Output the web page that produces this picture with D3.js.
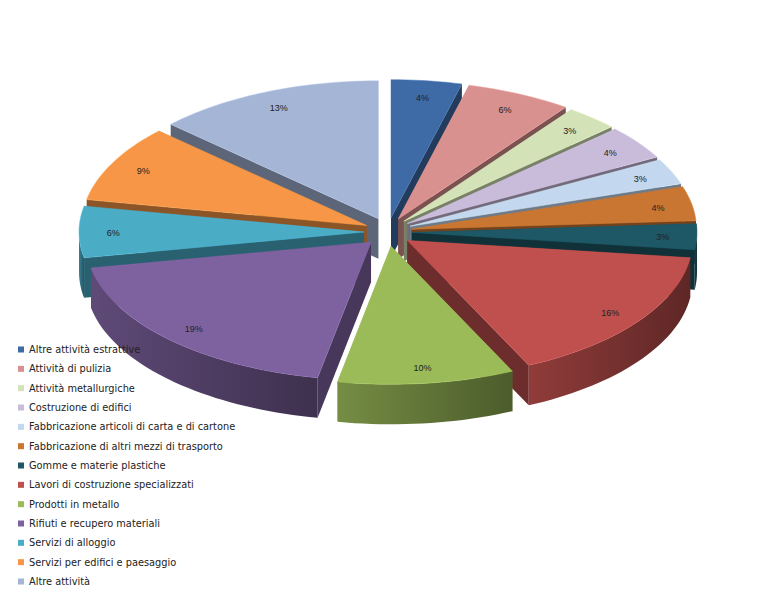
<!DOCTYPE html>
<html><head><meta charset="utf-8">
<script src="https://cdn.jsdelivr.net/npm/d3@7"></script>
<style>body{margin:0;background:#fff}</style>
</head><body>
<svg id="chart" width="782" height="591"></svg>
<script>
var categories = ["Altre attività estrattive","Attività di pulizia","Attività metallurgiche","Costruzione di edifici",
  "Fabbricazione articoli di carta e di cartone","Fabbricazione di altri mezzi di trasporto","Gomme e  materie plastiche",
  "Lavori di costruzione specializzati","Prodotti in metallo","Rifiuti e recupero materiali","Servizi di alloggio",
  "Servizi per edifici e paesaggio","Altre attività"];
var values = [4,6,3,4,3,4,3,16,10,19,6,9,13];
var colors = ["#3E6AA6","#D8918E","#D4E2B8","#C9BCDA","#C3D7EE","#C97632","#1E5765","#C0504D","#9BBB59","#7E62A0","#4BACC6","#F79646","#A5B5D5"];

var svg = d3.select("#chart");
var cx = 388, cy = 232, rx = 285, ry = 138, depth = 40, explode = 24;

var pie = d3.pie().sort(null).value(function(d){ return d; });
var arcs = pie(values).map(function(a, i){
  var mid = (a.startAngle + a.endAngle) / 2;
  return {a: a, i: i, mid: mid,
    ox: cx + explode * Math.sin(mid), oy: cy - explode * 0.6 * Math.cos(mid)};
});

function pt(s, ang, r, dz){
  return [s.ox + rx * r * Math.sin(ang), s.oy - ry * r * Math.cos(ang) + (dz || 0)];
}
function arcPts(s, a0, a1, dz){
  var n = Math.max(2, Math.ceil((a1 - a0) / 0.03)), p = [];
  for (var k = 0; k <= n; k++) p.push(pt(s, a0 + (a1 - a0) * k / n, 1, dz));
  return p;
}
var line = d3.line();

// back to front
arcs.sort(function(p, q){ return -Math.cos(p.mid) - -Math.cos(q.mid); });

arcs.forEach(function(s){
  var c = d3.color(colors[s.i]);
  var dark = c.darker(1.6);
  var a0 = s.a.startAngle, a1 = s.a.endAngle;
  var c0 = [s.ox, s.oy];
  // radial walls
  [a0, a1].forEach(function(ang){
    var e = pt(s, ang, 1);
    svg.append("path").attr("d", line([c0, e, [e[0], e[1] + depth], [c0[0], c0[1] + depth]]) + "Z")
      .attr("fill", dark.formatHex()).attr("stroke", "none");
  });
  // outer wall (front half)
  var f0 = Math.max(a0, Math.PI / 2), f1 = Math.min(a1, Math.PI * 1.5);
  if (f1 > f0) {
    var top = arcPts(s, f0, f1, 0), bot = arcPts(s, f0, f1, depth).reverse();
    var gid = "g" + s.i;
    var g = svg.append("defs").append("linearGradient").attr("id", gid);
    g.append("stop").attr("offset", "0%").attr("stop-color", c.darker(0.8).formatHex());
    g.append("stop").attr("offset", "100%").attr("stop-color", c.darker(2).formatHex());
    svg.append("path").attr("d", line(top.concat(bot)) + "Z").attr("fill", "url(#" + gid + ")");
  }
  // top face
  svg.append("path").attr("d", line([c0].concat(arcPts(s, a0, a1, 0))) + "Z")
    .attr("fill", colors[s.i]).attr("stroke", c.brighter(0.3).formatHex()).attr("stroke-width", 0.5);
  var lp = pt(s, s.mid, 0.88);
  svg.append("text").attr("x", lp[0]).attr("y", lp[1] + 4).attr("text-anchor", "middle")
    .attr("font-family", "Liberation Sans, Arial").attr("font-size", 9).attr("fill", "#222")
    .text(values[s.i] + "%");
});

// legend
var leg = svg.append("g").attr("font-family", "DejaVu Sans, sans-serif").attr("font-size", 9.8).attr("fill", "#222");
var ly = d3.scalePoint().domain(d3.range(categories.length)).range([350, 582]);
categories.forEach(function(name, i){
  leg.append("rect").attr("x", 18).attr("y", ly(i) - 3.5).attr("width", 6).attr("height", 6).attr("fill", colors[i]);
  leg.append("text").attr("x", 29).attr("y", ly(i) + 3).text(name);
});
</script>
</body></html>
